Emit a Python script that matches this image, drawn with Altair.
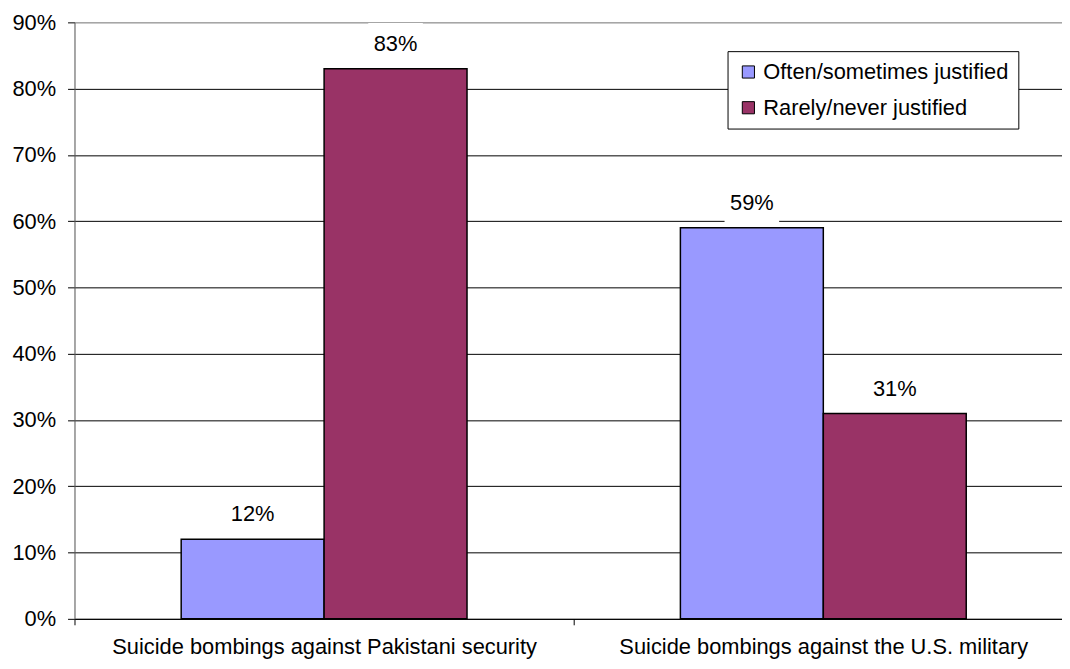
import altair as alt
import pandas as pd

categories = ["Suicide bombings against Pakistani security",
              "Suicide bombings against the U.S. military"]
series = ["Often/sometimes justified", "Rarely/never justified"]
often = [0.12, 0.59]
rarely = [0.83, 0.31]
y_ticks = [0, 0.1, 0.2, 0.3, 0.4, 0.5, 0.6, 0.7, 0.8, 0.9]
colors = ["#9999FF", "#993366"]

rows = []
for i, c in enumerate(categories):
    rows.append({"cat": c, "series": series[0], "value": often[i]})
    rows.append({"cat": c, "series": series[1], "value": rarely[i]})
df = pd.DataFrame(rows)

FONT = "Liberation Sans"
FS = 22

x = alt.X("cat:N", sort=categories,
          scale=alt.Scale(paddingInner=0, paddingOuter=0, range=[0, 1006]),
          axis=alt.Axis(title=None, labelAngle=0, tickBand="extent", labelLimit=0,
                        labelFontSize=FS, labelFont=FONT, labelColor="black",
                        domainColor="black", tickColor="black", tickSize=6,
                        labelPadding=12, grid=False))
xoff = alt.XOffset("series:N", sort=series,
                   scale=alt.Scale(paddingInner=0, paddingOuter=0.7465))
y = alt.Y("value:Q", scale=alt.Scale(domain=[0, 0.9], nice=False),
          axis=alt.Axis(title=None, format=".0%", values=y_ticks,
                        labelFontSize=FS, labelFont=FONT, labelColor="black",
                        domainColor="#606060", tickColor="black", tickSize=7,
                        labelPadding=12, grid=True,
                        gridColor={"condition": {"test": "datum.value >= 0.89", "value": "#808080"},
                                   "value": "black"},
                        gridWidth=1))
color = alt.Color("series:N", sort=series,
                  scale=alt.Scale(domain=series, range=colors),
                  legend=alt.Legend(title=None, orient="none", legendX=658, legendY=29,
                                    fillColor="white", strokeColor="black", padding=10,
                                    symbolType="square", symbolSize=150,
                                    symbolStrokeColor="black", symbolStrokeWidth=1,
                                    labelFontSize=FS, labelFont=FONT, labelColor="black",
                                    labelLimit=0, rowPadding=14))

bars = alt.Chart(df).mark_bar(stroke="black", strokeWidth=1.5).encode(
    x=x, xOffset=xoff, y=y, color=color)

# white label background box (55 x 43 px) sitting just above each bar
boxes = alt.Chart(df).transform_calculate(
    top="datum.value + 0.0645"
).mark_rect(width=55, yOffset=-3, y2Offset=-3).encode(
    x=x, xOffset=xoff, y=alt.Y("value:Q"), y2=alt.Y2("top:Q"),
    color=alt.value("#FFFFFF"))

texts = alt.Chart(df).mark_text(dy=-25, fontSize=FS, font=FONT, color="black",
                                baseline="middle").encode(
    x=x, xOffset=xoff, y=alt.Y("value:Q"), text=alt.Text("value:Q", format=".0%"))

chart = alt.layer(bars, boxes, texts).properties(
    width=995, height=601,
    autosize=alt.AutoSizeParams(type="none"),
    padding={"left": 67, "top": 12, "right": 0, "bottom": 40},
).configure_view(fill="#C0C0C0", stroke="#808080").configure(background="white")

chart.save("out.html", embed_options={"renderer": "svg", "actions": False})
